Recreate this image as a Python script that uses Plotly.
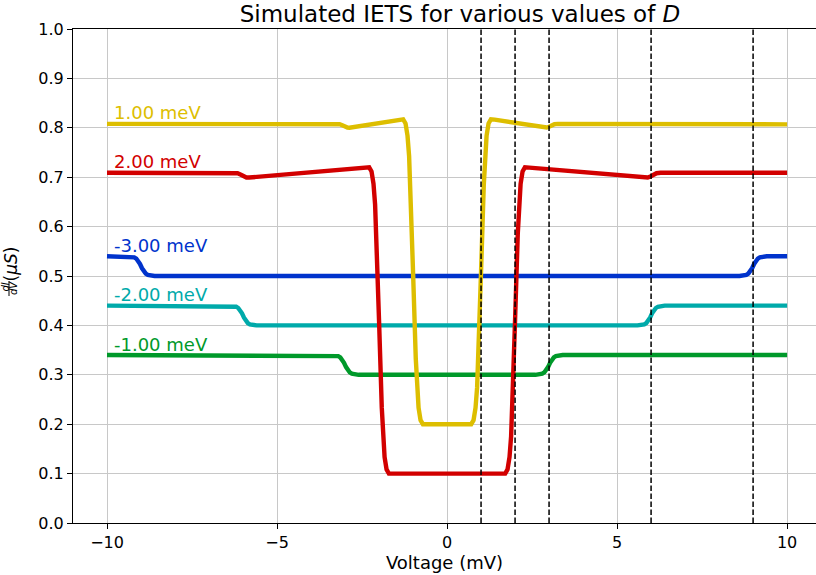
import plotly.graph_objects as go

# Simulated dI/dV curves (conductance in uS) versus bias voltage (mV),
# one per value of the anisotropy parameter D.
d_labels = ["1.00 meV", "2.00 meV", "-3.00 meV", "-2.00 meV", "-1.00 meV"]
d_colors = ["#DDBE00", "#D20000", "#0033CC", "#00AAAA", "#00992A"]

v_d1 = [-10.0, -3.26, -3.16, -3.08, -3.00, -2.93, -2.87, -2.78, -1.40, -1.29,
        -1.2206, -1.1625, -1.1156, -1.08, -1.00, -0.92, -0.8844, -0.8375, -0.7794, -0.71,
        -0.55, 0.55, 0.71, 0.7794, 0.8375, 0.8844, 0.92, 1.00, 1.08, 1.1156,
        1.1625, 1.2206, 1.29, 1.40, 2.78, 2.87, 2.93, 3.00, 3.08, 3.16,
        3.26, 10.0]
g_d1 = [0.808, 0.808, 0.8072, 0.805, 0.802, 0.8005, 0.8002, 0.8012, 0.8165, 0.817,
        0.8088, 0.7839, 0.7425, 0.6845, 0.5085, 0.3325, 0.2745, 0.2331, 0.2082, 0.200,
        0.200, 0.200, 0.200, 0.2082, 0.2331, 0.2745, 0.3325, 0.5085, 0.6845, 0.7425,
        0.7839, 0.8088, 0.817, 0.8165, 0.8012, 0.8002, 0.8005, 0.802, 0.805, 0.8072,
        0.808, 0.807]

v_d2 = [-10.0, -6.28, -6.16, -6.06, -5.98, -5.90, -5.82, -2.42, -2.29, -2.221,
        -2.163, -2.116, -2.08, -2.00, -1.92, -1.884, -1.837, -1.779, -1.71, -1.50,
        1.50, 1.71, 1.779, 1.837, 1.884, 1.92, 2.00, 2.08, 2.116, 2.163,
        2.221, 2.29, 2.42, 5.82, 5.90, 5.98, 6.06, 6.16, 6.28, 10.0]
g_d2 = [0.709, 0.709, 0.708, 0.705, 0.7015, 0.6993, 0.6994, 0.7193, 0.720, 0.7116,
        0.6865, 0.6446, 0.586, 0.410, 0.234, 0.1754, 0.1335, 0.1084, 0.100, 0.100,
        0.100, 0.100, 0.1084, 0.1335, 0.1754, 0.234, 0.410, 0.586, 0.6446, 0.6865,
        0.7116, 0.720, 0.7193, 0.6994, 0.6993, 0.7015, 0.705, 0.708, 0.709, 0.709]

v_dm3 = [-10.0, -9.40, -9.32, -9.26, -9.20, -9.14, -9.08, -9.03, -8.97, -8.92,
         -8.86, -8.80, -8.74, -8.68, -8.60, 8.60, 8.68, 8.74, 8.80, 8.86,
         8.92, 8.97, 9.03, 9.08, 9.14, 9.20, 9.26, 9.32, 9.40, 10.0]
g_dm3 = [0.540, 0.540, 0.5396, 0.539, 0.5378, 0.5352, 0.5304, 0.5244, 0.5156, 0.5096,
         0.5048, 0.5022, 0.501, 0.5004, 0.500, 0.500, 0.5004, 0.501, 0.5022, 0.5048,
         0.5096, 0.5156, 0.5244, 0.5304, 0.5352, 0.5378, 0.539, 0.5396, 0.540, 0.540]

v_dm2 = [-10.0, -6.40, -6.32, -6.26, -6.20, -6.14, -6.08, -6.03, -5.97, -5.92,
         -5.86, -5.80, -5.74, -5.68, -5.60, 5.60, 5.68, 5.74, 5.80, 5.86,
         5.92, 5.97, 6.03, 6.08, 6.14, 6.20, 6.26, 6.32, 6.40, 10.0]
g_dm2 = [0.440, 0.440, 0.4396, 0.439, 0.4378, 0.4352, 0.4304, 0.4244, 0.4156, 0.4096,
         0.4048, 0.4022, 0.401, 0.4004, 0.400, 0.400, 0.4004, 0.401, 0.4022, 0.4048,
         0.4096, 0.4156, 0.4244, 0.4304, 0.4352, 0.4378, 0.439, 0.4396, 0.440, 0.440]

v_dm1 = [-10.0, -3.40, -3.32, -3.26, -3.20, -3.14, -3.08, -3.03, -2.97, -2.92,
         -2.86, -2.80, -2.74, -2.68, -2.60, 2.60, 2.68, 2.74, 2.80, 2.86,
         2.92, 2.97, 3.03, 3.08, 3.14, 3.20, 3.26, 3.32, 3.40, 10.0]
g_dm1 = [0.340, 0.340, 0.3396, 0.339, 0.3378, 0.3352, 0.3304, 0.3244, 0.3156, 0.3096,
         0.3048, 0.3022, 0.301, 0.3004, 0.300, 0.300, 0.3004, 0.301, 0.3022, 0.3048,
         0.3096, 0.3156, 0.3244, 0.3304, 0.3352, 0.3378, 0.339, 0.3396, 0.340, 0.340]

# Baseline conductance of each curve, used to place its text label
label_levels = [0.808, 0.709, 0.540, 0.440, 0.340]
label_v = -9.86

# Excitation thresholds marked with dashed lines
threshold_v = [1, 2, 3, 6, 9]

x_ticks = [-10, -5, 0, 5, 10]

FONT = "DejaVu Sans"

curves = [
    (v_dm3, g_dm3, 2),
    (v_dm2, g_dm2, 3),
    (v_dm1, g_dm1, 4),
    (v_d1, g_d1, 0),
    (v_d2, g_d2, 1),
]

fig = go.Figure()
for v, g, idx in curves:
    fig.add_trace(go.Scatter(
        x=v, y=g, mode="lines", name=d_labels[idx],
        line=dict(color=d_colors[idx], width=4.4),
        showlegend=False,
    ))

for v0 in threshold_v:
    fig.add_shape(type="line", xref="x", yref="y", x0=v0, x1=v0, y0=0, y1=1,
                  line=dict(color="black", width=1.5, dash="5.5px,2.5px"),
                  layer="above")

for lvl, txt, col in zip(label_levels, d_labels, d_colors):
    fig.add_annotation(x=label_v, y=lvl + 0.022, xref="x", yref="y",
                       text=txt, showarrow=False, xanchor="left", yanchor="middle",
                       font=dict(family=FONT, size=18, color=col))


def px_x(p):
    # horizontal pixel position -> paper fraction of the plot area
    return (p - 73) / 743


def px_y(p):
    # vertical pixel position -> paper fraction of the plot area
    return (523 - p) / 494


# y-axis label: dI/dV as a stacked fraction followed by (uS)
fig.add_annotation(xref="paper", yref="paper", x=px_x(5.0), y=px_y(287.5),
                   xanchor="center", yanchor="middle", showarrow=False,
                   text="<i>dI</i>", textangle=-90,
                   font=dict(family=FONT, size=10, color="black"))
fig.add_annotation(xref="paper", yref="paper", x=px_x(13.5), y=px_y(288.5),
                   xanchor="center", yanchor="middle", showarrow=False,
                   text="<i>dV</i>", textangle=-90,
                   font=dict(family=FONT, size=10, color="black"))
fig.add_shape(type="line", xref="paper", yref="paper",
              x0=px_x(9), x1=px_x(9), y0=px_y(296), y1=px_y(281),
              line=dict(color="black", width=1))
fig.add_annotation(xref="paper", yref="paper", x=px_x(10.5), y=px_y(264),
                   xanchor="center", yanchor="middle", showarrow=False,
                   text="(<i>μS</i>)", textangle=-90,
                   font=dict(family=FONT, size=17, color="black"))

fig.update_layout(
    width=816, height=575,
    margin=dict(l=73, r=0, t=29, b=52),
    paper_bgcolor="white", plot_bgcolor="white",
    font=dict(family=FONT, size=16, color="black"),
    title=dict(text="Simulated IETS for various values of <i>D</i>",
               x=px_x(460), xref="paper", xanchor="center",
               y=1 - 14 / 575, yref="container", yanchor="middle",
               font=dict(family=FONT, size=23, color="black")),
)

fig.update_xaxes(
    range=[-11, 10.85], tickvals=x_ticks,
    showgrid=True, gridcolor="#c8c8c8", gridwidth=1, zeroline=False,
    showline=True, linecolor="black", linewidth=1, mirror=True,
    ticks="outside", ticklen=5, tickwidth=1, tickcolor="black",
    tickfont=dict(family=FONT, size=16, color="black"),
    title=dict(text="Voltage (mV)", font=dict(family=FONT, size=18, color="black"),
               standoff=4),
)
fig.update_yaxes(
    range=[0, 1], dtick=0.1, tick0=0, tickformat=".1f",
    showgrid=True, gridcolor="#c8c8c8", gridwidth=1, zeroline=False,
    showline=True, linecolor="black", linewidth=1, mirror=False,
    ticks="outside", ticklen=5, tickwidth=1, tickcolor="black",
    tickfont=dict(family=FONT, size=16, color="black"),
)

fig.write_html("out.html")
